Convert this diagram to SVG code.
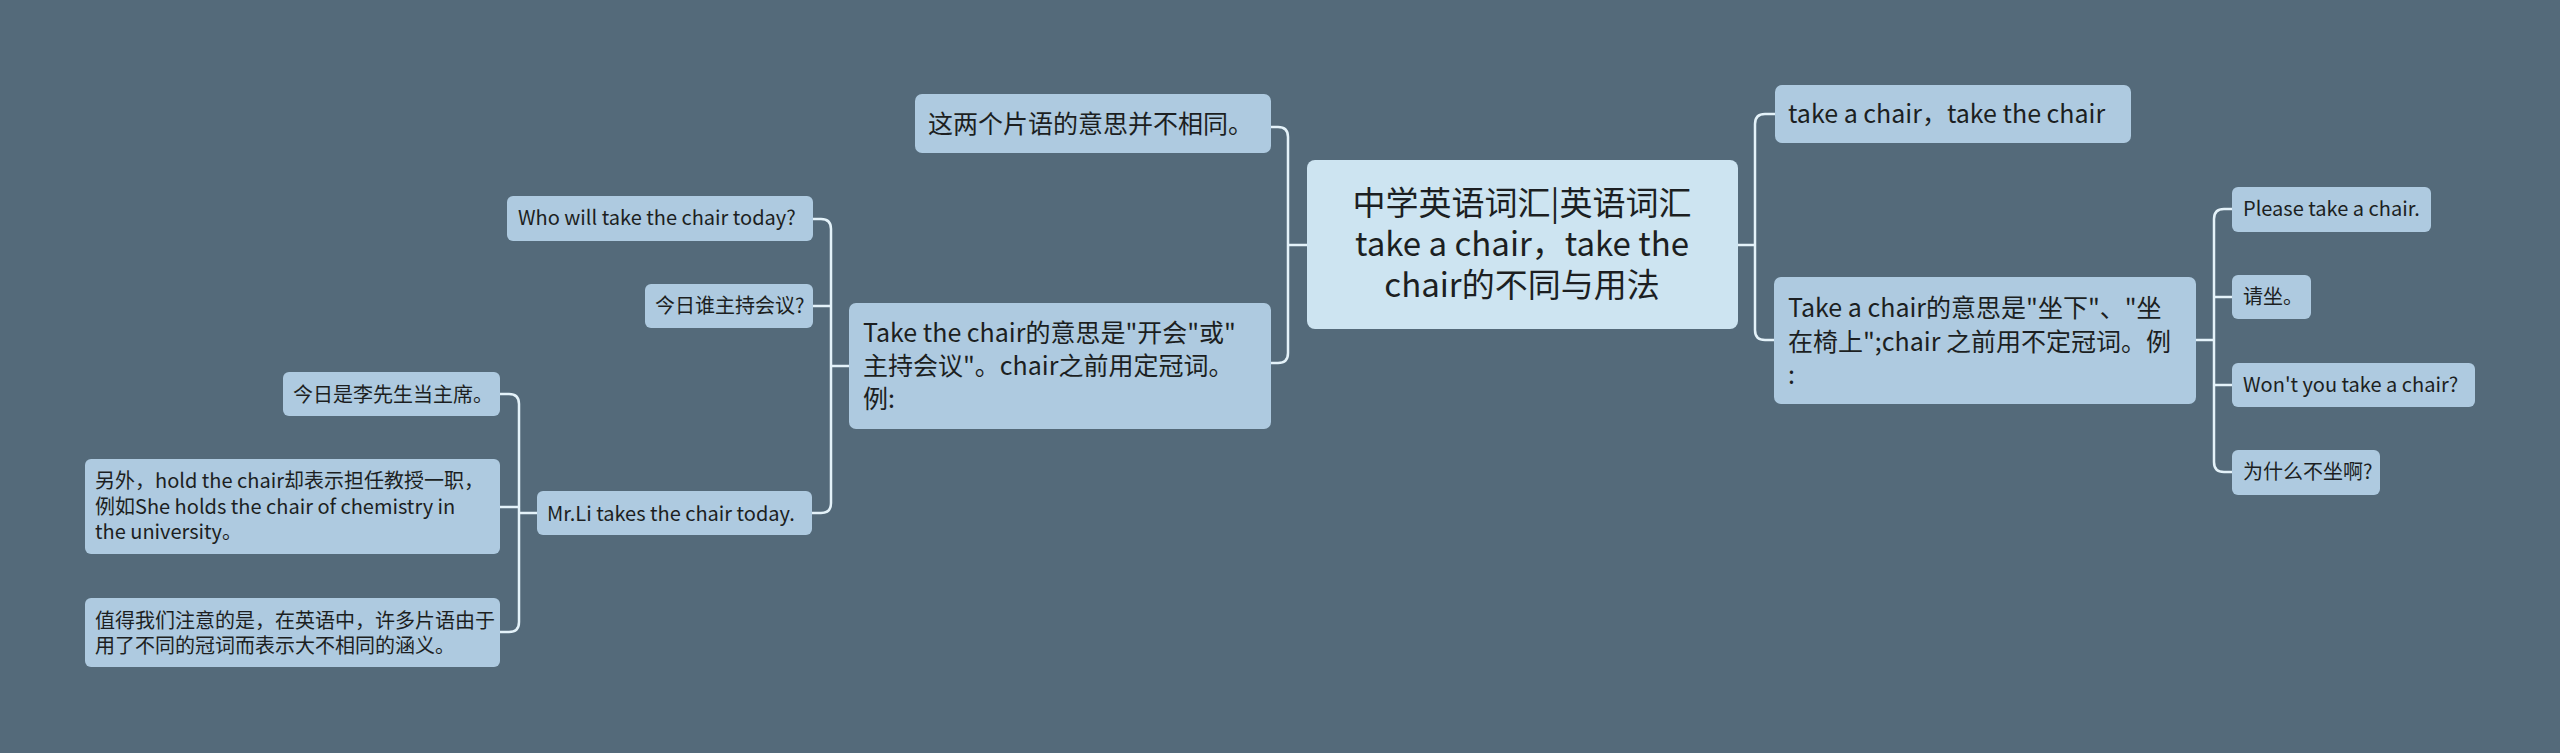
<svg xmlns="http://www.w3.org/2000/svg" width="2560" height="753" viewBox="0 0 2560 753">
<style>
text{font-family:"Noto Sans CJK SC","Microsoft YaHei",sans-serif;fill:#1c1f22}
.n rect{fill:#aecae0}
.root rect{fill:#cde4f1}
.s text{font-size:20px}
.m text{font-size:25px}
.root text{font-size:33px}
#connectors path{fill:none;stroke:#e4f2f9;stroke-width:2.5;stroke-linecap:round}
</style>
<rect width="2560" height="753" fill="#546a7a"/>
<g id="connectors">
<path d="M1271,127 H1278 Q1288,127 1288,137 V353 Q1288,363 1278,363 H1271 M1288,245 H1307"/>
<path d="M813,219 H821 Q831,219 831,229 V503 Q831,513 821,513 H812 M813,306 H831 M831,366 H849"/>
<path d="M500,394 H509 Q519,394 519,404 V622 Q519,632 509,632 H500 M500,507 H519 M519,513 H537"/>
<path d="M1775,114 H1765 Q1755,114 1755,124 V330 Q1755,340 1765,340 H1774 M1738,245 H1755"/>
<path d="M2232,209 H2224 Q2214,209 2214,219 V462 Q2214,472 2224,472 H2232 M2214,297 H2232 M2214,385 H2232 M2196,340 H2214"/>
</g>
<g id="root" class="root">
<rect x="1307" y="160" width="431" height="169" rx="8"/>
<text x="1522" text-anchor="middle"><tspan x="1522" y="215">中学英语词汇|英语词汇</tspan><tspan x="1522" y="256">take a chair，take the</tspan><tspan x="1522" y="297">chair的不同与用法</tspan></text>
</g>
<g id="n1" class="n m">
<rect x="915" y="94" width="356" height="59" rx="7"/>
<text x="928" y="133">这两个片语的意思并不相同。</text>
</g>
<g id="n2" class="n m">
<rect x="849" y="303" width="422" height="126" rx="7"/>
<text><tspan x="863" y="342">Take the chair的意思是"开会"或"</tspan><tspan x="863" y="375">主持会议"。chair之前用定冠词。</tspan><tspan x="863" y="408">例:</tspan></text>
</g>
<g id="n3" class="n m">
<rect x="1775" y="85" width="356" height="58" rx="7"/>
<text x="1788" y="123">take a chair，take the chair</text>
</g>
<g id="n4" class="n m">
<rect x="1774" y="277" width="422" height="127" rx="7"/>
<text><tspan x="1788" y="317">Take a chair的意思是"坐下"、"坐</tspan><tspan x="1788" y="351">在椅上";chair 之前用不定冠词。例</tspan><tspan x="1788" y="384">:</tspan></text>
</g>
<g id="n5" class="n s">
<rect x="2232" y="187" width="199" height="45" rx="6"/>
<text x="2243" y="216">Please take a chair.</text>
</g>
<g id="n6" class="n s">
<rect x="2232" y="275" width="79" height="44" rx="6"/>
<text x="2243" y="304">请坐。</text>
</g>
<g id="n7" class="n s">
<rect x="2232" y="363" width="243" height="44" rx="6"/>
<text x="2243" y="392">Won't you take a chair?</text>
</g>
<g id="n8" class="n s">
<rect x="2232" y="450" width="148" height="45" rx="6"/>
<text x="2243" y="479">为什么不坐啊?</text>
</g>
<g id="n9" class="n s">
<rect x="507" y="196" width="306" height="45" rx="6"/>
<text x="518" y="225">Who will take the chair today?</text>
</g>
<g id="n10" class="n s">
<rect x="645" y="284" width="168" height="44" rx="6"/>
<text x="655" y="313">今日谁主持会议?</text>
</g>
<g id="n11" class="n s">
<rect x="537" y="491" width="275" height="44" rx="6"/>
<text x="547" y="521">Mr.Li takes the chair today.</text>
</g>
<g id="n12" class="n s">
<rect x="283" y="372" width="217" height="44" rx="6"/>
<text x="293" y="402">今日是李先生当主席。</text>
</g>
<g id="n13" class="n s">
<rect x="85" y="459" width="415" height="95" rx="6"/>
<text><tspan x="95" y="488">另外，hold the chair却表示担任教授一职，</tspan><tspan x="95" y="514">例如She holds the chair of chemistry in</tspan><tspan x="95" y="539">the university。</tspan></text>
</g>
<g id="n14" class="n s">
<rect x="85" y="598" width="415" height="69" rx="6"/>
<text><tspan x="95" y="628">值得我们注意的是，在英语中，许多片语由于</tspan><tspan x="95" y="653">用了不同的冠词而表示大不相同的涵义。</tspan></text>
</g>
</svg>
